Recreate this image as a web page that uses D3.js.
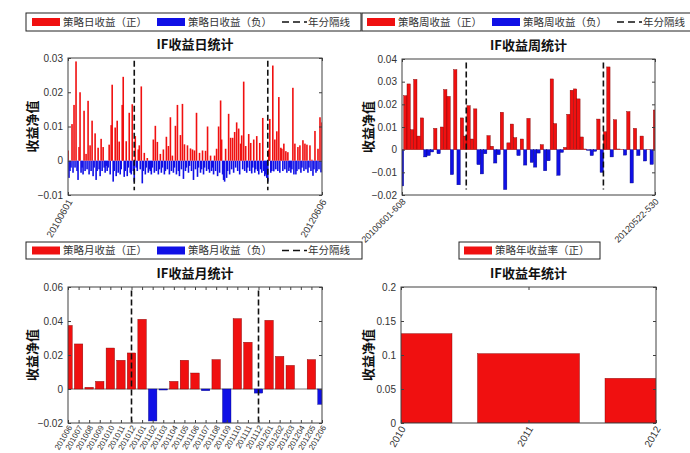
<!DOCTYPE html>
<html>
<head>
<meta charset="utf-8">
<script src="https://cdn.jsdelivr.net/npm/d3@7"></script>
<style>
  body { margin: 0; background: #fff; }
  svg { display: block; font-family: 'Liberation Sans', Arial, sans-serif; }
</style>
</head>
<body>
<svg id="chart" width="690" height="453"></svg>
<script>
'use strict';

// daily returns (one bar per trading day)
var dayTickLabels = ['20100601', '20120606'];
var dailyValues = [
  0.003, -0.005, -0.003, -0.002, 0.0107, -0.0035, 0.0163, -0.002, 0.029, -0.003, -0.0056, 0.004, 0.020, -0.0035, -0.002, -0.004,
  0.0146, -0.003, 0.002, -0.0025, 0.0175, -0.004, 0.0045, -0.003, 0.0117, -0.0045, -0.002, 0.008, -0.0056, -0.003, 0.0038, -0.0025,
  -0.0045, 0.0064, -0.003, 0.004, -0.002, -0.0035, -0.0015, -0.003, -0.002, 0.0047, -0.004, 0.0104, 0.0222, -0.0061, -0.003, 0.0097,
  -0.0045, 0.0117, -0.0035, 0.0056, -0.004, -0.0025, 0.0163, 0.0245, -0.0047, -0.003, 0.0057, -0.0045, -0.002, 0.014, -0.0035, -0.004,
  0.0165, -0.003, -0.0061, 0.0072, -0.002, -0.003, 0.0033, 0.0045, -0.0025, 0.0217, -0.0066, -0.003, 0.0023, -0.004, -0.002, 0.0008,
  -0.0035, -0.0025, -0.003, -0.004, -0.002, 0.0062, -0.0035, 0.0102, -0.003, 0.0055, -0.004, -0.0025, 0.002, -0.0035, -0.002, 0.0033,
  -0.004, -0.003, 0.007, -0.0025, 0.0043, -0.004, 0.0127, -0.003, 0.0015, -0.0035, -0.002, 0.0102, -0.004, 0.0163, -0.003, -0.0045,
  0.0075, -0.0025, 0.0166, -0.0053, 0.0048, -0.003, -0.002, 0.0045, -0.0035, -0.0015, 0.0036, -0.003, 0.0033, -0.0056, 0.003, -0.0025,
  0.014, -0.0047, -0.002, 0.0023, -0.0035, -0.0025, 0.003, -0.004, -0.002, 0.0029, -0.003, 0.010, -0.0025, -0.0035, 0.0015, -0.003,
  -0.002, -0.004, 0.0015, -0.003, 0.0035, -0.0045, 0.010, -0.0035, 0.0176, 0.0062, -0.004, -0.0056, -0.0061, 0.0035, -0.005, -0.003,
  0.0137, -0.004, 0.0067, -0.0025, 0.0067, -0.0035, 0.0084, -0.002, 0.0112, -0.003, 0.0094, -0.004, 0.005, 0.0074, -0.0025, 0.0231,
  -0.003, 0.0043, -0.0035, -0.002, 0.0078, -0.003, 0.0052, -0.0037, -0.002, 0.0062, -0.0035, -0.0025, 0.0072, -0.003, -0.004, 0.0052,
  -0.0025, -0.0035, 0.0125, -0.003, -0.0045, -0.004, -0.005, -0.0061, 0.0033, 0.0122, -0.0035, -0.003, 0.0278, -0.0031, 0.0062, -0.0025,
  0.0086, -0.003, 0.0186, -0.0035, 0.0038, 0.0035, -0.003, 0.005, -0.0025, 0.0028, -0.0035, 0.0025, -0.003, -0.002, -0.0035, -0.0025,
  0.0213, -0.004, 0.005, -0.004, -0.003, 0.004, -0.0025, 0.0045, -0.0035, -0.002, 0.006, -0.003, 0.005, -0.0025, 0.0047, -0.0035,
  -0.002, 0.0045, -0.003, 0.0003, -0.0044, -0.0025, 0.0087, -0.0035, -0.003, 0.0035, -0.0025, 0.0127, -0.0034, 0.0112
];
var daySeparators = [66, 199];
var daySepRange = [-0.0086, 0.0292];

// weekly returns
var weekTickLabels = ['20100601-608', '20120522-530'];
var weeklyValues = [
  -0.016, 0.0238, 0.029, 0.0088, 0.031, 0.006, 0.014, -0.0032, -0.0026, -0.001, 0.0094, -0.0018, 0.010, 0.0265, 0.0235, -0.011,
  0.0353, -0.0155, 0.014, 0.006, 0.0194, 0.0047, 0.018, -0.0066, -0.0107, -0.0018, 0.0062, 0.0015, -0.0059, -0.0022, 0.0165, -0.0176,
  0.003, 0.0113, 0.0053, -0.0026, 0.0047, -0.0068, 0.0138, -0.0056, -0.0077, -0.0015, 0.0022, -0.0093, -0.0049, 0.0312, 0.0115, -0.0113,
  -0.0012, 0.001, 0.0156, 0.0262, 0.0268, 0.0224, 0.0056, 0.0003, -0.0003, -0.0026, -0.0007, 0.0135, -0.010, 0.0079, 0.0365, -0.0032,
  0.0132, 0.0003, 0.0001, -0.0024, 0.0168, -0.0147, 0.0094, -0.0026, 0.006, -0.005, 0.0001, -0.0065, 0.0175
];
var weekSeparators = [19.3, 60.5];
var weekSepRange = [-0.0176, 0.0385];

// monthly returns
var monthLabels = [
  '201006', '201007', '201008', '201009', '201010', '201011', '201012',
  '201101', '201102', '201103', '201104', '201105', '201106', '201107', '201108', '201109', '201110', '201111', '201112',
  '201201', '201202', '201203', '201204', '201205', '201206'
];
var monthlyValues = [
  0.0374, 0.0265, 0.001, 0.0045, 0.0241, 0.0169, 0.0212,
  0.041, -0.0188, -0.0006, 0.0045, 0.0169, 0.0094, -0.001, 0.0173, -0.021, 0.0414, 0.0275, -0.0024,
  0.0404, 0.0192, 0.0139, 0, 0.0173, -0.009
];
var monthSeparators = ['201012', '201112'];
var monthSepRange = [-0.02, 0.058];

// yearly returns
var yearLabels = ['2010', '2011', '2012'];
var yearlyValues = [0.1314, 0.102, 0.0657];

var svg = d3.select('#chart');
var red = '#f01010', blue = '#1010e6';
var cjk = "'Noto Sans CJK SC', 'Noto Sans', sans-serif";
var fmt = d3.format('~g');

function drawPanel(opt) {
  var n = opt.values.length;
  var x = d3.scaleLinear().domain([0, n - 1]).range([opt.left, opt.right]);
  var y = d3.scaleLinear().domain(opt.yDomain).range([opt.bottom, opt.top]);
  var bw = opt.barPx || (x(1) - x(0)) * opt.barWidth;
  var g = svg.append('g');

  svg.append('clipPath').attr('id', 'clip-' + opt.id)
    .append('rect')
    .attr('x', opt.left).attr('y', opt.top)
    .attr('width', opt.right - opt.left).attr('height', opt.bottom - opt.top);

  var bars = g.append('g').attr('clip-path', 'url(#clip-' + opt.id + ')');

  if (opt.baseline) {
    bars.append('line')
      .attr('x1', opt.left).attr('x2', opt.right)
      .attr('y1', y(0)).attr('y2', y(0))
      .attr('stroke', '#555').attr('stroke-width', 0.8);
  }

  bars.selectAll('rect.bar')
    .data(opt.values)
    .enter()
    .append('rect')
    .attr('class', 'bar')
    .attr('x', function (d, i) { return x(i) - bw / 2; })
    .attr('width', bw)
    .attr('y', function (d) { return y(Math.max(0, d)); })
    .attr('height', function (d) { return Math.abs(y(d) - y(0)); })
    .attr('fill', function (d) { return d >= 0 ? red : blue; })
    .attr('stroke', function (d) { return opt.edge ? (d >= 0 ? '#7a0000' : '#00007a') : 'none'; })
    .attr('stroke-width', 0.4);

  // year separators
  (opt.separators || []).forEach(function (s) {
    g.append('line')
      .attr('x1', x(s)).attr('x2', x(s))
      .attr('y1', y(opt.sepRange[1])).attr('y2', y(opt.sepRange[0]))
      .attr('stroke', '#111').attr('stroke-width', 1.6)
      .attr('stroke-dasharray', '6,3');
  });

  // box and inside ticks
  g.append('rect')
    .attr('x', opt.left).attr('y', opt.top)
    .attr('width', opt.right - opt.left).attr('height', opt.bottom - opt.top)
    .attr('fill', 'none').attr('stroke', '#404040').attr('stroke-width', 1);

  var yl = g.append('g')
    .attr('transform', 'translate(' + opt.left + ',0)')
    .call(d3.axisLeft(y).tickValues(opt.yTicks).tickSize(-3).tickPadding(5).tickFormat(fmt));
  yl.select('.domain').remove();
  yl.selectAll('line').attr('stroke', '#404040');
  yl.selectAll('text').attr('fill', '#333').style('font-size', '10px')
    .style('font-family', "'Liberation Sans', Arial, sans-serif");

  var yr = g.append('g')
    .attr('transform', 'translate(' + opt.right + ',0)')
    .call(d3.axisRight(y).tickValues(opt.yTicks).tickSize(-3).tickFormat(''));
  yr.select('.domain').remove();
  yr.selectAll('line').attr('stroke', '#404040');

  var tickIdx = opt.xTicks.map(function (t) { return t.i; });
  [['axisBottom', opt.bottom], ['axisTop', opt.top]].forEach(function (a) {
    var ax = g.append('g')
      .attr('transform', 'translate(0,' + a[1] + ')')
      .call(d3[a[0]](x).tickValues(tickIdx).tickSize(-3).tickFormat(''));
    ax.select('.domain').remove();
    ax.selectAll('line').attr('stroke', '#404040');
  });

  g.selectAll('text.xlab')
    .data(opt.xTicks)
    .enter()
    .append('text')
    .attr('class', 'xlab')
    .attr('transform', function (t) {
      return 'translate(' + (x(t.i) + 2) + ',' + (opt.bottom + opt.xGap) + ') rotate(' + (-opt.angle) + ')';
    })
    .attr('text-anchor', 'end')
    .attr('dy', '0.35em')
    .attr('fill', '#333')
    .style('font-size', opt.xFont + 'px')
    .text(function (t) { return t.label; });

  // title and y label
  g.append('text')
    .attr('x', (opt.left + opt.right) / 2)
    .attr('y', opt.titleY)
    .attr('text-anchor', 'middle')
    .attr('fill', '#111')
    .style('font-family', cjk)
    .style('font-weight', 'bold')
    .style('font-size', '13px')
    .text(opt.title);

  g.append('text')
    .attr('transform', 'translate(' + opt.yLabelX + ',' + (opt.top + opt.bottom) / 2 + ') rotate(-90)')
    .attr('text-anchor', 'middle')
    .attr('dy', '0.35em')
    .attr('fill', '#111')
    .style('font-family', cjk)
    .style('font-weight', 'bold')
    .style('font-size', '13px')
    .text('收益净值');
}

function drawLegend(box, items) {
  var g = svg.append('g');
  g.append('rect')
    .attr('x', box.x).attr('y', box.y)
    .attr('width', box.w).attr('height', box.h)
    .attr('fill', '#fff').attr('stroke', '#222').attr('stroke-width', 1);
  var cx = box.x + box.pad, cy = box.y + box.h / 2;
  items.forEach(function (it) {
    if (it.color) {
      g.append('rect')
        .attr('x', cx).attr('y', cy - 4)
        .attr('width', 28).attr('height', 8)
        .attr('fill', it.color);
      cx += 31;
    } else {
      g.append('line')
        .attr('x1', cx).attr('x2', cx + 25)
        .attr('y1', cy).attr('y2', cy)
        .attr('stroke', '#111').attr('stroke-width', 1.4)
        .attr('stroke-dasharray', '7,4');
      cx += 26;
    }
    var t = g.append('text')
      .attr('x', cx).attr('y', cy)
      .attr('dy', '0.36em')
      .attr('fill', '#333')
      .style('font-family', cjk)
      .style('font-size', '10.5px')
      .text(it.text);
    cx += t.node().getComputedTextLength() + 10;
  });
}

function ends(labels, n) {
  return [{ i: 0, label: labels[0] }, { i: n - 1, label: labels[1] }];
}

drawPanel({
  id: 'day', values: dailyValues, barPx: 1.6,
  left: 68, right: 322, top: 58, bottom: 195,
  yDomain: [-0.01, 0.03], yTicks: [-0.01, 0, 0.01, 0.02, 0.03],
  xTicks: ends(dayTickLabels, dailyValues.length), angle: 60, xFont: 9.5, xGap: 5,
  separators: daySeparators, sepRange: daySepRange,
  title: 'IF收益日统计', titleY: 49, yLabelX: 32
});

drawPanel({
  id: 'week', values: weeklyValues, barWidth: 1.0, edge: true,
  left: 402, right: 655, top: 59, bottom: 195,
  yDomain: [-0.02, 0.04], yTicks: [-0.02, -0.01, 0, 0.01, 0.02, 0.03, 0.04],
  xTicks: ends(weekTickLabels, weeklyValues.length), angle: 45, xFont: 9, xGap: 5,
  separators: weekSeparators, sepRange: weekSepRange,
  title: 'IF收益周统计', titleY: 50, yLabelX: 368
});

drawPanel({
  id: 'month', values: monthlyValues, barWidth: 0.8, edge: true, baseline: true,
  left: 68, right: 322, top: 287, bottom: 423,
  yDomain: [-0.02, 0.06], yTicks: [-0.02, 0, 0.02, 0.04, 0.06],
  xTicks: monthLabels.map(function (m, i) { return { i: i, label: m }; }), angle: 60, xFont: 8, xGap: 3,
  separators: monthSeparators.map(function (m) { return monthLabels.indexOf(m); }), sepRange: monthSepRange,
  title: 'IF收益月统计', titleY: 278, yLabelX: 32
});

drawPanel({
  id: 'year', values: yearlyValues, barWidth: 0.8, edge: true,
  left: 401, right: 656, top: 287, bottom: 423,
  yDomain: [0, 0.2], yTicks: [0, 0.05, 0.1, 0.15, 0.2],
  xTicks: yearLabels.map(function (yv, i) { return { i: i, label: yv }; }), angle: 60, xFont: 10, xGap: 4,
  title: 'IF收益年统计', titleY: 278, yLabelX: 368
});

drawLegend({ x: 26, y: 13, w: 335, h: 18, pad: 6 }, [
  { color: red, text: '策略日收益（正）' },
  { color: blue, text: '策略日收益（负）' },
  { text: '年分隔线' }
]);
drawLegend({ x: 362, y: 13, w: 340, h: 18, pad: 5 }, [
  { color: red, text: '策略周收益（正）' },
  { color: blue, text: '策略周收益（负）' },
  { text: '年分隔线' }
]);
drawLegend({ x: 26, y: 242, w: 336, h: 17, pad: 6 }, [
  { color: red, text: '策略月收益（正）' },
  { color: blue, text: '策略月收益（负）' },
  { text: '年分隔线' }
]);
drawLegend({ x: 459, y: 242, w: 141, h: 17, pad: 5 }, [
  { color: red, text: '策略年收益率（正）' }
]);
</script>
</body>
</html>
